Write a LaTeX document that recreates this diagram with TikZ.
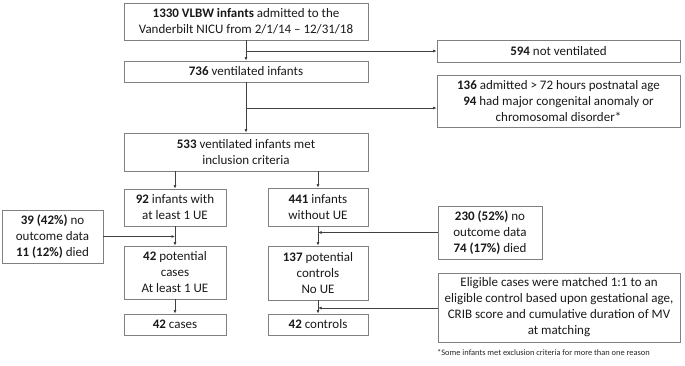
\documentclass[tikz,border=0pt]{standalone}
\usepackage{fontspec}
\setmainfont{Carlito}
\usetikzlibrary{arrows.meta}
\begin{document}
\begin{tikzpicture}[x=1pt,y=-1pt,
  box/.style={draw=black!50,line width=0.8pt,align=center,inner sep=0pt,
    font=\fontsize{13}{16}\selectfont,text=black!90},
  arr/.style={draw=black!75,line width=0.7pt,-{Latex[length=3.5pt,width=3pt]}},
  ln/.style={draw=black!75,line width=0.7pt}]
\useasboundingbox (0,0) rectangle (685,365);
\node[box,minimum width=244,minimum height=37] (top) at (246,21.5) {\textbf{1330 VLBW infants} admitted to the\\Vanderbilt NICU from 2/1/14 -- 12/31/18};
\node[box,minimum width=244,minimum height=21] (v736) at (246,71.5) {\textbf{736} ventilated infants};
\node[box,minimum width=243,minimum height=22] (n594) at (558.5,51) {\textbf{594} not ventilated};
\node[box,minimum width=243,minimum height=52] (n136) at (558.5,101) {\textbf{136} admitted > 72 hours postnatal age\\\textbf{94} had major congenital anomaly or\\chromosomal disorder*};
\node[box,minimum width=244,minimum height=38] (n533) at (246,152) {\textbf{533} ventilated infants met\\inclusion criteria};
\node[box,minimum width=102,minimum height=37] (n92) at (175,207.5) {\textbf{92} infants with\\at least 1 UE};
\node[box,minimum width=100,minimum height=38] (n441) at (318,207) {\textbf{441} infants\\without UE};
\node[box,minimum width=101,minimum height=53] (n39) at (52.5,236.5) {\textbf{39 (42\%)} no\\outcome data\\\textbf{11 (12\%)} died};
\node[box,minimum width=102,minimum height=53] (n42p) at (175,272.5) {\textbf{42} potential\\cases\\At least 1 UE};
\node[box,minimum width=100,minimum height=54] (n137) at (318,273) {\textbf{137} potential\\controls\\No UE};
\node[box,minimum width=104,minimum height=53] (n230) at (490,232.5) {\textbf{230 (52\%)} no\\outcome data\\\textbf{74 (17\%)} died};
\node[box,minimum width=102,minimum height=21] (n42c) at (175,324.5) {\textbf{42} cases};
\node[box,minimum width=100,minimum height=21] (n42ctl) at (318,324.5) {\textbf{42} controls};
\node[box,minimum width=242,minimum height=69] (elig) at (559,307.5) {Eligible cases were matched 1:1 to an\\eligible control based upon gestational age,\\CRIB score and cumulative duration of MV\\at matching};
\node[font=\fontsize{8.4}{9}\selectfont,anchor=west,inner sep=0pt,text=black!85] (foot) at (437,353) {*Some infants met exclusion criteria for more than one reason};
% connectors
\draw[arr] (top) -- (v736);
\coordinate (b1) at (246,51);
\draw[arr] (b1) -- (n594.west);
\draw[arr] (v736) -- (n533);
\coordinate (b2) at (246,108);
\draw[arr] (b2) -- (b2 -| n136.west);
\draw[arr] (n92.north |- n533.south) -- (n92.north);
\draw[arr] (n441.north |- n533.south) -- (n441.north);
\draw[arr] (n92) -- (n42p);
\draw[arr] (n441) -- (n137);
\draw[arr] (n39.east) -- (n39.east -| n42p.north);
\draw[arr] (n230.west) -- (n230.west -| n137.north);
\draw[arr] (n42p) -- (n42c);
\draw[arr] (n137) -- (n42ctl);
\coordinate (b3) at (318,308);
\draw[arr] (elig.west |- b3) -- (b3);
\end{tikzpicture}
\end{document}
